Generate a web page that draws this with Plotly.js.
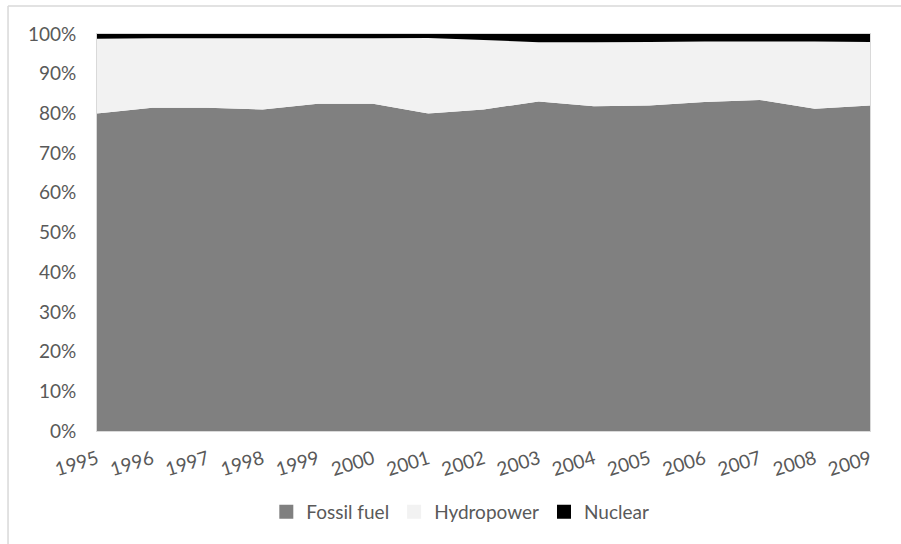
<!DOCTYPE html>
<html>
<head>
<meta charset="utf-8">
<script src="https://cdn.plot.ly/plotly-3.0.1.min.js"></script>
<style>html,body{margin:0;padding:0;background:#fff;}#chart{width:901px;height:544px;}</style>
</head>
<body>
<div id="chart"></div>
<script>
var years = ['1995','1996','1997','1998','1999','2000','2001','2002','2003','2004','2005','2006','2007','2008','2009'];
var fossil = [80.0, 81.4, 81.4, 81.0, 82.4, 82.4, 80.0, 81.0, 83.0, 81.8, 82.0, 82.9, 83.4, 81.2, 82.0];
var nuclear = [1.2, 1.1, 1.1, 1.1, 1.1, 1.1, 1.0, 1.5, 2.1, 2.1, 2.0, 1.9, 1.9, 1.9, 2.0];
var hydro = fossil.map(function(f, i){ return Math.round((100 - f - nuclear[i]) * 10) / 10; });
var yTicks = [0,10,20,30,40,50,60,70,80,90,100];
var seriesNames = ['Fossil fuel', 'Hydropower', 'Nuclear'];
var seriesColors = ['#808080', '#f2f2f2', '#000000'];
var seriesValues = [fossil, hydro, nuclear];

var FONT = 'Lato, "Open Sans", sans-serif';
var data = [];
seriesNames.forEach(function(name, i){
  data.push({x: years, y: seriesValues[i], name: name, type: 'scatter', mode: 'none',
             stackgroup: 'one', fillcolor: seriesColors[i], line: {width: 0},
             hoverinfo: 'skip', showlegend: false, legendgroup: name});
});
// legend-only entries (square swatches like the reference)
seriesNames.forEach(function(name, i){
  data.push({x: [null], y: [null], name: name, type: 'scatter', mode: 'markers', legendgroup: name,
             marker: {color: seriesColors[i], symbol: 'square', size: 14, line: {width: 0}},
             showlegend: true, hoverinfo: 'skip'});
});

var layout = {
  width: 901, height: 544,
  margin: {l: 97, r: 31, t: 34, b: 113},
  paper_bgcolor: '#ffffff', plot_bgcolor: '#ffffff',
  font: {family: FONT, size: 19, color: '#595959'},
  showlegend: true,
  legend: {orientation: 'h', x: 0.47, xanchor: 'center', y: -0.204, yanchor: 'middle',
           font: {family: FONT, size: 19, color: '#595959'}, itemwidth: 30, traceorder: 'normal'},
  xaxis: {type: 'category', range: [0, years.length - 1], tickangle: -17,
          showgrid: false, zeroline: false, showline: true, mirror: true, linecolor: '#d9d9d9', linewidth: 1,
          ticks: '', ticklabelstandoff: 9, tickfont: {family: FONT, size: 19, color: '#595959'}, fixedrange: true},
  yaxis: {range: [0, 100], tickvals: yTicks, ticktext: yTicks.map(function(v){return v + '%';}),
          showgrid: true, gridcolor: '#d9d9d9', zeroline: false, showline: true, mirror: true,
          linecolor: '#d9d9d9', linewidth: 1, ticks: '', ticklabelstandoff: 16,
          tickfont: {family: FONT, size: 19, color: '#595959'}, fixedrange: true},
  shapes: [
    {type: 'line', xref: 'paper', yref: 'paper', x0: -0.1151, x1: 1.2, y0: 1.0705, y1: 1.0705,
     line: {color: '#d9d9d9', width: 1.5}},
    {type: 'line', xref: 'paper', yref: 'paper', x0: -0.1151, x1: -0.1151, y0: -0.4, y1: 1.0705,
     line: {color: '#d9d9d9', width: 1.5}}
  ]
};
Plotly.newPlot('chart', data, layout, {displayModeBar: false, staticPlot: true});
</script>
</body>
</html>
